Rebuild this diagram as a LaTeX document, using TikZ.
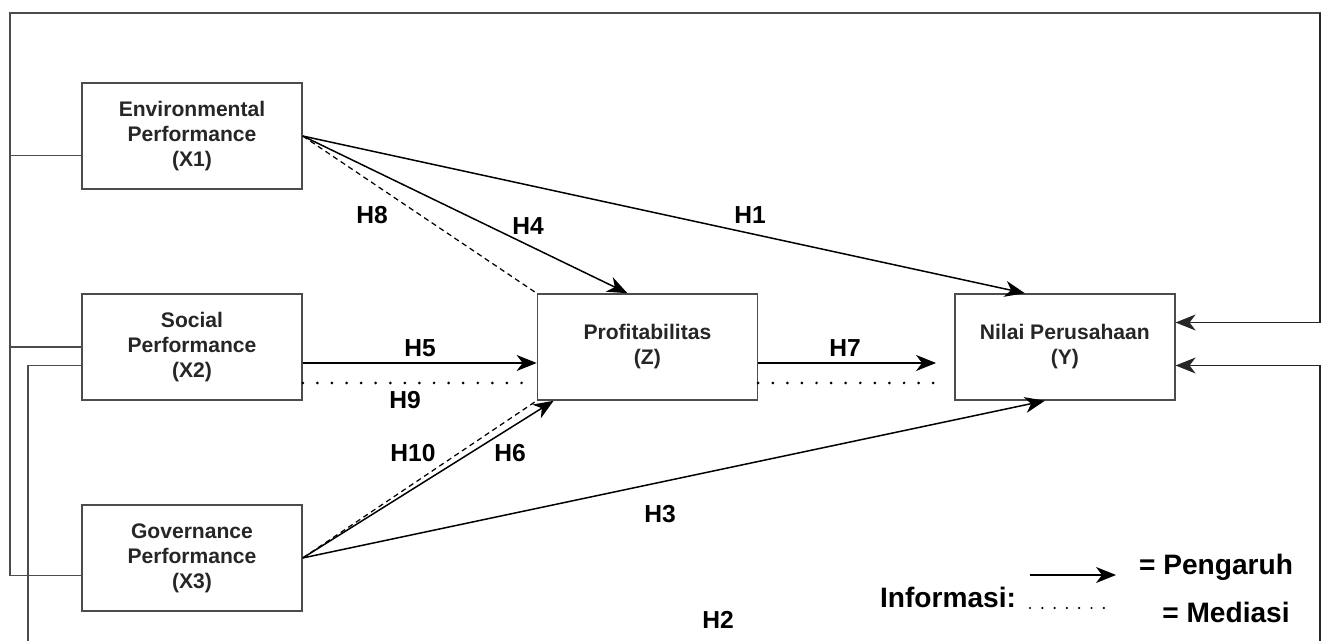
\documentclass[tikz,border=0pt]{standalone}
\usepackage{fontspec}
\setmainfont{Liberation Sans}
\usetikzlibrary{arrows.meta,positioning}
\tikzset{>={Stealth[length=4mm,width=3.2mm,inset=1.2mm]}}
\tikzstyle{block} = [rectangle, draw=black!70, line width=0.9pt, text=black!85,
    text centered, align=center, minimum width=4.4cm, minimum height=2.12cm,
    font=\bfseries\fontsize{12}{14.2}\selectfont]
\tikzstyle{line} = [draw, ->, line width=0.85pt]
\tikzstyle{dashline} = [draw, line width=0.7pt, dash pattern=on 3pt off 2.2pt]
\tikzstyle{dotline} = [draw, line width=1.7pt, line cap=round, dash pattern=on 0pt off 8.3pt]
\tikzstyle{feedback} = [draw=black!70, line width=0.8pt]
\tikzstyle{hyp} = [font=\bfseries\fontsize{14}{16}\selectfont]
\tikzstyle{legend} = [font=\bfseries\fontsize{16}{18}\selectfont]

\begin{document}
\begin{tikzpicture}[x=0.02cm, y=-0.02cm, node distance=4.22cm]
    \useasboundingbox (0,0) rectangle (1326,641);
    \clip (0,0) rectangle (1326,641);

    \node[block] (x2) at (192,347) {Social\\Performance\\(X2)};
    \node[block, above of=x2] (x1) {Environmental\\Performance\\(X1)};
    \node[block, below of=x2] (x3) {Governance\\Performance\\(X3)};
    \node[block, right of=x2, node distance=9.11cm] (z) {Profitabilitas\\(Z)};
    \node[block, right of=z, node distance=8.35cm] (y) {Nilai Perusahaan\\(Y)};

    % outer connections
    \coordinate (tl) at (10,13);
    \coordinate (tr) at (1320,13);
    \coordinate (bl) at (28,660);
    \coordinate (br) at (1320,660);
    \path[feedback] ([yshift=-0.35cm]x3.west) -| (tl) -- (tr) |- ([yshift=0.49cm]y.east);
    \path[feedback] ([yshift=-0.39cm]x1.west) -- ++(-72,0);
    \path[feedback] (x2.west) -- ++(-72,0);
    \path[feedback] ([yshift=-0.37cm]x2.west) -| (bl) -- (br) |- ([yshift=-0.37cm]y.east);
    \path[line, black!85] (tr) |- ([yshift=0.49cm]y.east);
    \path[line, black!85] (br) |- ([yshift=-0.37cm]y.east);

    % direct effects
    \path[line] (x1.east) -- ([xshift=-0.8cm]y.north);
    \path[line] (x1.east) -- ([xshift=-0.4cm]z.north);
    \path[dashline] (x1.east) -- (z.north west);
    \path[line] ([yshift=-0.32cm]x2.east) -- ([yshift=-0.32cm]z.west);
    \path[dotline] ([yshift=-0.72cm]x2.east) -- ([yshift=-0.72cm,xshift=-0.26cm]z.west);
    \path[line] (x3.east) -- ([xshift=0.34cm]z.south west);
    \path[dashline] (x3.east) -- (z.south west);
    \path[line] (x3.east) -- ([xshift=-0.4cm]y.south);
    \path[line] ([yshift=-0.32cm]z.east) -- ([yshift=-0.32cm,xshift=-0.36cm]y.west);
    \path[dotline] ([yshift=-0.72cm]z.east) -- ([yshift=-0.72cm,xshift=-0.36cm]y.west);

    % hypothesis labels
    \node[hyp] (h1) at (750,215) {H1};
    \node[hyp] (h2) at (718,620) {H2};
    \node[hyp] (h3) at (660,514) {H3};
    \node[hyp] (h4) at (528,226) {H4};
    \node[hyp] (h5) at (420,348) {H5};
    \node[hyp] (h6) at (510,453) {H6};
    \node[hyp] (h7) at (845,348) {H7};
    \node[hyp] (h8) at (372,215) {H8};
    \node[hyp] (h9) at (405,400) {H9};
    \node[hyp] (h10) at (413,453) {H10};

    % legend
    \node[legend] (info) at (948,597) {Informasi:};
    \coordinate (pa) at (1030,575);
    \coordinate (pb) at (1116,575);
    \coordinate (ma) at (1030,608);
    \coordinate (mb) at (1116,608);
    \path[line] (pa) -- (pb);
    \path[dotline, line width=1.4pt, dash pattern=on 0pt off 7pt] (ma) -- (mb);
    \node[legend] (peng) at (1216,567) {= Pengaruh};
    \node[legend] (med) at (1226,612) {= Mediasi};
\end{tikzpicture}
\end{document}
